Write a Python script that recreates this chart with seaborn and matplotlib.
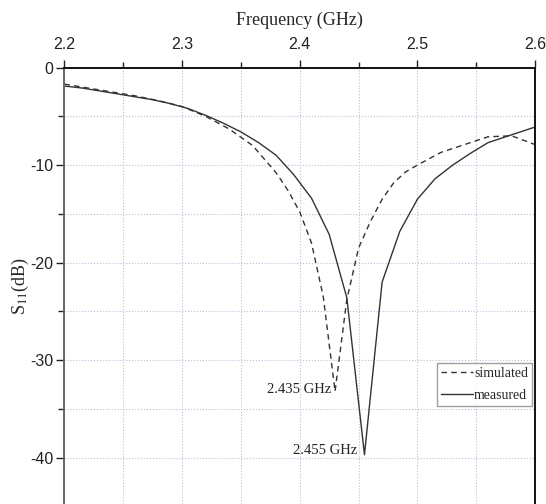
"""S11 return loss: simulated vs measured."""

import matplotlib
matplotlib.use("Agg")
import matplotlib.pyplot as plt
import numpy as np
import pandas as pd
import seaborn as sns
from matplotlib.ticker import MultipleLocator

# measured S11, sampled every 15 MHz
meas_freq = [2.2, 2.215, 2.23, 2.245, 2.26, 2.275, 2.29, 2.305, 2.32, 2.335,
             2.35, 2.365, 2.38, 2.395, 2.41, 2.425, 2.44, 2.455, 2.47, 2.485,
             2.5, 2.515, 2.53, 2.545, 2.56, 2.575, 2.59, 2.6]
meas_s11 = [-1.9, -2.1, -2.4, -2.7, -3.0, -3.3, -3.7, -4.2, -4.9, -5.7,
            -6.6, -7.7, -9.0, -11.0, -13.4, -17.1, -23.6, -39.7, -22.0, -16.8,
            -13.5, -11.4, -10.0, -8.8, -7.7, -7.1, -6.5, -6.1]

# simulated S11
sim_freq = [2.2, 2.22, 2.24, 2.26, 2.28, 2.3, 2.32, 2.34, 2.36, 2.38, 2.39,
            2.4, 2.41, 2.42, 2.43, 2.44, 2.45, 2.46, 2.47, 2.48, 2.49, 2.5,
            2.52, 2.54, 2.56, 2.58, 2.6]
sim_s11 = [-1.7, -2.1, -2.5, -2.9, -3.4, -4.0, -5.0, -6.3, -8.0, -10.8, -12.6,
           -14.8, -18.0, -23.5, -33.2, -23.8, -18.5, -15.8, -13.5, -11.8, -10.7,
           -10.0, -8.7, -7.9, -7.1, -7.0, -7.9]

annotations = [("2.435 GHz", 2.4265, -33.0), ("2.455 GHz", 2.449, -39.3)]

sim_df = pd.DataFrame({"freq": sim_freq, "s11": sim_s11})
meas_df = pd.DataFrame({"freq": meas_freq, "s11": meas_s11})

sns.set_style("white")
plt.rcParams["mathtext.fontset"] = "stix"
plt.rcParams["axes.unicode_minus"] = False
serif = ["Liberation Serif", "DejaVu Serif"]
sans = ["Liberation Sans", "DejaVu Sans"]

fig = plt.figure(figsize=(5.46, 5.04), dpi=100)
ax = fig.add_axes([0.118, 0.0, 0.862, 0.866])

line_col = "#333333"
sns.lineplot(data=sim_df, x="freq", y="s11", ax=ax, color=line_col, lw=1.0,
             linestyle=(0, (4, 3)), label="simulated")
sns.lineplot(data=meas_df, x="freq", y="s11", ax=ax, color=line_col, lw=1.0,
             label="measured")

for txt, x, y in annotations:
    ax.text(x, y, txt, ha="right", va="center", fontsize=10.5,
            family=serif, color="#222222")

ax.set_xlim(2.2, 2.6)
ax.set_ylim(-44.75, 0)
ax.xaxis.set_major_locator(MultipleLocator(0.1))
ax.xaxis.set_minor_locator(MultipleLocator(0.05))
ax.yaxis.set_major_locator(MultipleLocator(10))
ax.yaxis.set_minor_locator(MultipleLocator(5))
ax.xaxis.tick_top()
ax.xaxis.set_label_position("top")
ax.tick_params(axis="x", which="both", direction="out", top=True, bottom=False,
               labelsize=11.5, pad=5, colors="#222222")
ax.tick_params(axis="y", which="both", direction="out", left=True,
               labelsize=11.5, pad=2, colors="#222222")
ax.tick_params(which="major", length=6, width=1.0)
ax.tick_params(which="minor", length=4, width=1.0)
for lab in ax.get_xticklabels() + ax.get_yticklabels():
    lab.set_family(sans)

ax.grid(True, which="both", color="#b8bfd8", linestyle=":", linewidth=0.8)
ax.set_axisbelow(True)

for side in ["top", "right"]:
    ax.spines[side].set_color("#111111")
    ax.spines[side].set_linewidth(1.4)
ax.spines["left"].set_color("#666666")
ax.spines["left"].set_linewidth(1.4)
ax.spines["bottom"].set_visible(False)

ax.set_xlabel("Frequency (GHz)", fontsize=13, family=serif, labelpad=9)
ax.set_ylabel(r"S$_{11}$(dB)", fontsize=13, family=serif)
ax.yaxis.set_label_coords(-0.071, 0.5)

leg = ax.legend(loc="upper right", bbox_to_anchor=(0.994, 0.323),
                borderaxespad=0, fancybox=False, handlelength=2.3,
                handletextpad=0.1, borderpad=0.3, labelspacing=0.6,
                prop={"family": serif, "size": 10})
leg.get_frame().set_edgecolor("#888888")
leg.get_frame().set_linewidth(1.0)

fig.savefig("out.png", dpi=100)
